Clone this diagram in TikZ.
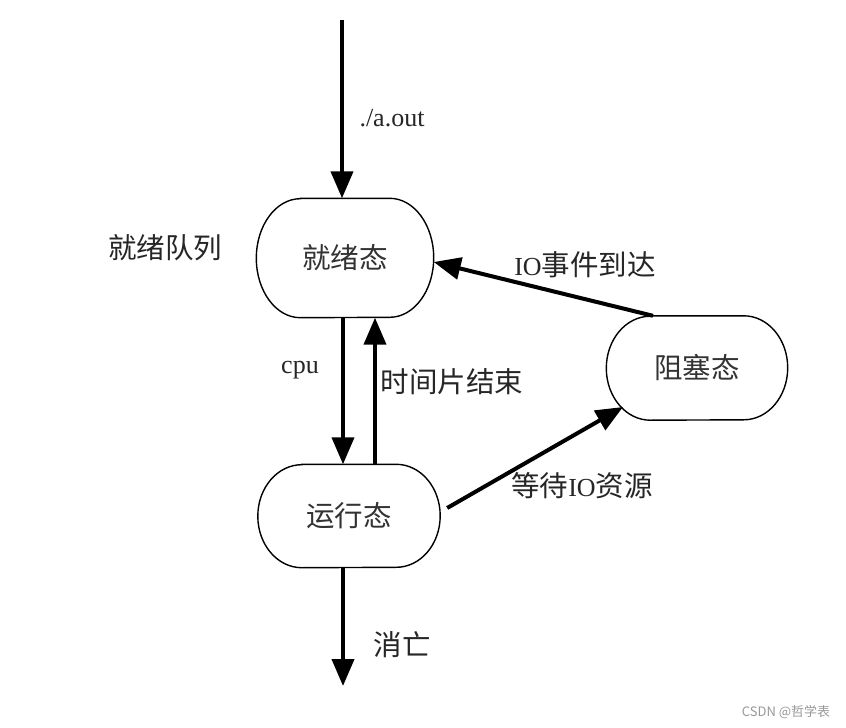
\documentclass[tikz,border=0pt]{standalone}
\usepackage{fontspec}
\setmainfont{Liberation Serif}
\newfontfamily\cjk{Noto Sans CJK SC}
\newcommand{\cjks}{\cjk\fontsize{28.5}{32}\selectfont}
\usetikzlibrary{arrows.meta}
\tikzset{
  statebox/.style={minimum width=#1, inner sep=0pt, font=\cjks, text=black!80},
  flow/.style={line width=4pt, -{Triangle[length=27pt,width=22pt]}},
  lbl/.style={inner sep=0pt, font=\fontsize{26}{30}\selectfont, text=black!85},
  shapeline/.style={line width=1.4pt}
}
\newcommand{\stadiumpath}[3]{% name, rx, ry
  \draw[shapeline] ([xshift=#2]#1.north west) -- ([xshift=-#2]#1.north east)
    arc[start angle=90, end angle=-90, x radius=#2, y radius=#3]
    -- ([xshift=#2]#1.south west)
    arc[start angle=270, end angle=90, x radius=#2, y radius=#3] -- cycle;}
\begin{document}
\begin{tikzpicture}[x=1pt,y=-1pt]
\useasboundingbox (0,0) rectangle (846,728);
\fill[white] (0,0) rectangle (846,728);
% nodes (boxes)
\node[statebox=177pt, minimum height=119pt] (ready) at (345,258) {就绪态};
\node[statebox=182pt, minimum height=103pt] (running) at (349,516) {运行态};
\node[statebox=181pt, minimum height=104pt] (blocked) at (697,368) {阻塞态};
\stadiumpath{ready}{44pt}{59.5pt}
\stadiumpath{running}{44pt}{51.5pt}
\stadiumpath{blocked}{44pt}{52pt}
% free ends
\coordinate (start) at (342,20);
\coordinate (finish) at (343,686);
% connectors
\draw[flow] (start) -- ([xshift=-3pt]ready.north);
\draw[flow] ([xshift=-2pt]ready.south) -- ([xshift=-6pt]running.north);
\draw[flow] ([xshift=26pt]running.north) -- ([xshift=30pt]ready.south);
\draw[flow] ([xshift=-44pt]blocked.north) -- ([yshift=-4pt]ready.east);
\draw[flow] ([shift={(7pt,8pt)}]running.east) -- ([shift={(-74pt,-39pt)}]blocked.center);
\draw[flow] ([xshift=-6pt]running.south) -- (finish);
% labels
\node[lbl] (aout) at (392,118) {./a.out};
\node[lbl] (cpu) at (300,370) {cpu};
\node[lbl] (slice) at (452,382) {\cjks 时间片结束};
\node[lbl] (ioev) at (585,265) {IO{\cjks 事件到达}};
\node[lbl] (iowait) at (582,486) {{\cjks 等待}IO{\cjks 资源}};
\node[lbl] (die) at (402,645) {\cjks 消亡};
\node[lbl] (queue) at (165,248) {\cjks 就绪队列};
\node[inner sep=0pt, font=\cjk\fontsize{13}{15}\selectfont, text=black!40] (wm) at (786,712) {CSDN @哲学表};
\end{tikzpicture}
\end{document}
